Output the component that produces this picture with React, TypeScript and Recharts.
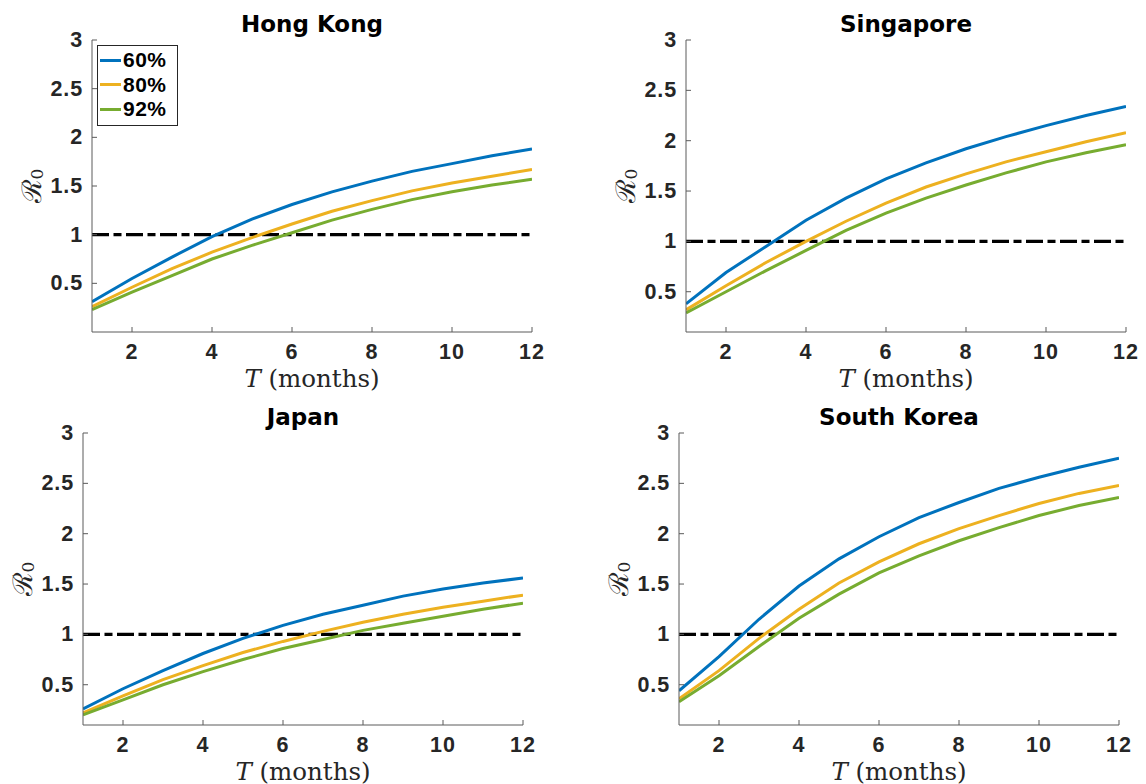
import React from 'react';
import { LineChart, Line, XAxis, YAxis, ReferenceLine, Legend, Customized } from 'recharts';

const months = [1, 2, 3, 4, 5, 6, 7, 8, 9, 10, 11, 12];
const seriesNames = ['60%', '80%', '92%'];
const seriesColours = ['#0072BD', '#EDB120', '#77AC30'];
const xTicks = [2, 4, 6, 8, 10, 12];
const yTicks = [0.5, 1, 1.5, 2, 2.5, 3];
const threshold = 1;

const hongKong60 = [0.31, 0.55, 0.77, 0.98, 1.16, 1.31, 1.44, 1.55, 1.65, 1.73, 1.81, 1.88];
const hongKong80 = [0.26, 0.46, 0.65, 0.82, 0.97, 1.11, 1.24, 1.35, 1.45, 1.53, 1.6, 1.67];
const hongKong92 = [0.23, 0.41, 0.58, 0.75, 0.89, 1.02, 1.15, 1.26, 1.36, 1.44, 1.51, 1.57];

const singapore60 = [0.38, 0.69, 0.95, 1.21, 1.43, 1.62, 1.78, 1.92, 2.04, 2.15, 2.25, 2.34];
const singapore80 = [0.32, 0.56, 0.79, 1.0, 1.2, 1.38, 1.54, 1.67, 1.79, 1.89, 1.99, 2.08];
const singapore92 = [0.29, 0.5, 0.71, 0.91, 1.11, 1.28, 1.43, 1.56, 1.68, 1.79, 1.88, 1.96];

const japan60 = [0.26, 0.46, 0.64, 0.81, 0.96, 1.09, 1.2, 1.29, 1.38, 1.45, 1.51, 1.56];
const japan80 = [0.22, 0.39, 0.55, 0.69, 0.82, 0.93, 1.03, 1.12, 1.2, 1.27, 1.33, 1.39];
const japan92 = [0.2, 0.35, 0.5, 0.63, 0.75, 0.86, 0.95, 1.04, 1.11, 1.18, 1.25, 1.31];

const korea60 = [0.44, 0.78, 1.15, 1.48, 1.75, 1.97, 2.16, 2.31, 2.45, 2.56, 2.66, 2.75];
const korea80 = [0.36, 0.64, 0.96, 1.25, 1.51, 1.72, 1.9, 2.05, 2.18, 2.3, 2.4, 2.48];
const korea92 = [0.33, 0.59, 0.88, 1.16, 1.4, 1.61, 1.78, 1.93, 2.06, 2.18, 2.28, 2.36];

// plot box (page pixels) for each subplot
interface Panel {
  title: string;
  series: number[][];
  yMin: number;
  x0: number; x1: number; y0: number; y1: number;
  legend?: boolean;
}

const panels: Panel[] = [
  { title: 'Hong Kong', series: [hongKong60, hongKong80, hongKong92], yMin: 0, x0: 91.5, x1: 531.5, y0: 40, y1: 332, legend: true },
  { title: 'Singapore', series: [singapore60, singapore80, singapore92], yMin: 0.1, x0: 686, x1: 1126, y0: 40, y1: 332 },
  { title: 'Japan', series: [japan60, japan80, japan92], yMin: 0.1, x0: 83, x1: 523, y0: 433, y1: 725 },
  { title: 'South Korea', series: [korea60, korea80, korea92], yMin: 0.1, x0: 679, x1: 1119, y0: 433, y1: 725 },
];

const PADL = 90, PADT = 40, PADR = 25, PADB = 62, YW = 60, XH = 30;
const axisGrey = '#5a5a5a';
const textDark = '#262626';
const boldFont = '"Liberation Sans", Arial, sans-serif';
const titleFont = '"DejaVu Sans", sans-serif';
const mathFont = '"DejaVu Serif", serif';
const TICK_FS = 21.5;

const YTick = ({ x, y, payload }: any) => (
  <text x={x} y={y} textAnchor="end" dominantBaseline="central" fontFamily={boldFont} fontWeight="bold" fontSize={TICK_FS} letterSpacing={1} fill={textDark}>
    {payload.value}
  </text>
);

const XTick = ({ x, y, payload }: any) => (
  <text x={x} y={y} dy="0.72em" textAnchor="middle" fontFamily={boldFont} fontWeight="bold" fontSize={TICK_FS} letterSpacing={1} fill={textDark}>
    {payload.value}
  </text>
);

const LegendBox = ({ payload }: any) => (
  <div style={{ border: `1px solid ${textDark}`, background: '#fff', padding: '2px 4px 3px 2px', width: 73 }}>
    {(payload || []).map((p: any) => (
      <div key={p.value} style={{ display: 'flex', alignItems: 'center', height: 24.5 }}>
        <span style={{ display: 'inline-block', width: 21, height: 3, background: p.color, marginRight: 2 }} />
        <span style={{ fontFamily: boldFont, fontWeight: 'bold', fontSize: 21, letterSpacing: 0.5, color: '#000' }}>{p.value}</span>
      </div>
    ))}
  </div>
);

const Subplot = ({ panel }: { panel: Panel }) => {
  const pw = panel.x1 - panel.x0;
  const ph = panel.y1 - panel.y0;
  const width = pw + PADL + PADR;
  const height = ph + PADT + PADB;
  const rows = months.map((t, i) => ({ t, a: panel.series[0][i], b: panel.series[1][i], c: panel.series[2][i] }));
  const keys = ['a', 'b', 'c'];
  const cx = PADL + pw / 2;
  const ly = PADT + ph / 2;
  const lx = PADL - 61;

  const Annotations = () => (
    <g>
      <text x={cx} y={PADT - 8} textAnchor="middle" fontFamily={titleFont} fontWeight="bold" fontSize={23} fill="#000">
        {panel.title}
      </text>
      <text x={cx} y={PADT + ph + 55} textAnchor="middle" fontFamily={mathFont} fontSize={24.5} fill={textDark}>
        <tspan fontStyle="italic">T</tspan> (months)
      </text>
      <text x={lx} y={ly} transform={`rotate(-90 ${lx} ${ly})`} textAnchor="middle" dominantBaseline="central" fontFamily={mathFont} fontSize={27} fill={textDark}>
        ℛ<tspan dy={6} fontSize={17}>0</tspan>
      </text>
    </g>
  );

  return (
    <div style={{ position: 'absolute', left: panel.x0 - PADL, top: panel.y0 - PADT }}>
      <LineChart width={width} height={height} data={rows} margin={{ top: PADT, right: PADR, bottom: PADB - XH, left: PADL - YW }}>
        <XAxis
          type="number"
          dataKey="t"
          domain={[1, 12]}
          ticks={xTicks}
          interval={0}
          allowDataOverflow
          height={XH}
          tickSize={-5}
          tickMargin={17}
          stroke={axisGrey}
          tick={<XTick />}
        />
        <YAxis
          type="number"
          domain={[panel.yMin, 3]}
          ticks={yTicks}
          interval={0}
          allowDataOverflow
          width={YW}
          tickSize={-5}
          tickMargin={13.7}
          stroke={axisGrey}
          tick={<YTick />}
        />
        <ReferenceLine y={threshold} stroke="#000" strokeWidth={3.4} strokeDasharray="17 4.5 8 4.5" />
        {keys.map((k, i) => (
          <Line
            key={k}
            type="linear"
            dataKey={k}
            name={seriesNames[i]}
            stroke={seriesColours[i]}
            strokeWidth={3}
            dot={false}
            activeDot={false}
            isAnimationActive={false}
          />
        ))}
        {panel.legend && (
          <Legend
            layout="vertical"
            align="center"
            verticalAlign="middle"
            content={<LegendBox />}
            wrapperStyle={{ position: 'absolute', left: 95.5, top: 45, width: 'auto', height: 'auto' }}
          />
        )}
        <Customized component={<Annotations />} />
      </LineChart>
    </div>
  );
};

export default function App() {
  return (
    <div style={{ position: 'absolute', left: 0, top: 0, width: 1146, height: 784, background: '#fff' }}>
      {panels.map((p) => (
        <Subplot key={p.title} panel={p} />
      ))}
    </div>
  );
}
